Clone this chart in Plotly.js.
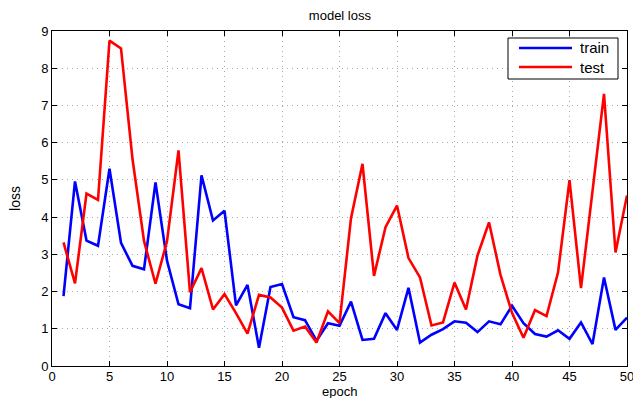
<!DOCTYPE html>
<html>
<head>
<meta charset="utf-8">
<script src="https://cdn.plot.ly/plotly-3.0.1.min.js"></script>
<style>html,body{margin:0;padding:0;background:#fff;}#chart{width:633px;height:398px;}</style>
</head>
<body>
<div id="chart"></div>
<script>
const epochs = [1,2,3,4,5,6,7,8,9,10,11,12,13,14,15,16,17,18,19,20,21,22,23,24,25,26,27,28,29,30,31,32,33,34,35,36,37,38,39,40,41,42,43,44,45,46,47,48,49,50];
const trainLoss = [1.88,4.96,3.37,3.23,5.30,3.31,2.69,2.60,4.93,2.83,1.66,1.55,5.12,3.91,4.17,1.63,2.18,0.49,2.12,2.20,1.31,1.23,0.68,1.15,1.08,1.73,0.70,0.73,1.42,0.97,2.10,0.63,0.84,0.99,1.20,1.16,0.91,1.20,1.12,1.62,1.15,0.86,0.79,0.96,0.73,1.17,0.59,2.38,0.97,1.30];
const testLoss = [3.32,2.22,4.63,4.46,8.74,8.53,5.56,3.36,2.21,3.35,5.79,1.98,2.63,1.52,1.93,1.42,0.87,1.91,1.84,1.57,0.95,1.06,0.63,1.47,1.15,3.97,5.43,2.42,3.73,4.31,2.90,2.38,1.09,1.17,2.24,1.52,2.97,3.86,2.45,1.43,0.76,1.50,1.34,2.51,4.99,2.09,4.70,7.31,3.05,4.58];
const seriesNames = ['train', 'test'];
const seriesColors = ['#0000ff', '#ff0000'];
const xTicks = [0,5,10,15,20,25,30,35,40,45,50];
const yTicks = [0,1,2,3,4,5,6,7,8,9];

const font = 'Liberation Sans, Arial, sans-serif';
const axisCommon = {
  showline: true, linecolor: '#000', linewidth: 1, mirror: 'ticks',
  ticks: 'inside', ticklen: 5, tickcolor: '#000', tickwidth: 1,
  showgrid: true, gridcolor: '#a8a8a8', griddash: '1px,4px', gridwidth: 1,
  zeroline: false, tickfont: {family: font, size: 13, color: '#000'},
  automargin: false, ticklabeloverflow: 'allow'
};
const data = [
  {x: epochs, y: trainLoss, name: seriesNames[0], type: 'scatter', mode: 'lines',
   line: {color: seriesColors[0], width: 2.6}, showlegend: false},
  {x: epochs, y: testLoss, name: seriesNames[1], type: 'scatter', mode: 'lines',
   line: {color: seriesColors[1], width: 2.6}, showlegend: false}
];

// legend box drawn in paper coordinates (MATLAB-style legend)
const L = 52, T = 31, W = 575, H = 335;
const px = v => (v - L) / W;
const py = v => (T + H - v) / H;
const legendRows = [48, 67];
const shapes = [
  {type: 'rect', xref: 'paper', yref: 'paper', x0: px(508), x1: px(618), y0: py(79), y1: py(38),
   line: {color: '#000', width: 1}, fillcolor: '#fff', layer: 'above'}
];
const annotations = [];
seriesNames.forEach((n, i) => {
  shapes.push({type: 'line', xref: 'paper', yref: 'paper', x0: px(519), x1: px(572),
    y0: py(legendRows[i]), y1: py(legendRows[i]), line: {color: seriesColors[i], width: 2.6}, layer: 'above'});
  annotations.push({xref: 'paper', yref: 'paper', x: px(578), y: py(legendRows[i]), text: n,
    showarrow: false, xanchor: 'left', yanchor: 'middle', font: {family: font, size: 15, color: '#000'}});
});
// x-axis label, placed like the reference, just above the bottom edge
annotations.push({xref: 'paper', yref: 'paper', x: 0.5, y: py(391), text: 'epoch',
  showarrow: false, xanchor: 'center', yanchor: 'middle', font: {family: font, size: 13, color: '#000'}});

const layout = {
  width: 633, height: 398,
  margin: {l: 52, r: 6, t: 31, b: 32, pad: 0},
  paper_bgcolor: '#fff', plot_bgcolor: '#fff',
  font: {family: font, color: '#000'},
  title: {text: 'model loss', font: {family: font, size: 13, color: '#000'}, x: 0.537, xanchor: 'center', y: 0.962, yanchor: 'middle'},
  xaxis: Object.assign({}, axisCommon, {
    range: [0, 50], tickvals: xTicks, ticktext: xTicks.map(String), ticklabelstandoff: -2
  }),
  yaxis: Object.assign({}, axisCommon, {
    range: [0, 9], tickvals: yTicks, ticktext: yTicks.map(String),
    title: {text: 'loss', font: {family: font, size: 14, color: '#000'}, standoff: 17}
  }),
  showlegend: false,
  shapes: shapes,
  annotations: annotations
};
Plotly.newPlot('chart', data, layout, {displayModeBar: false, staticPlot: true});
</script>
</body>
</html>
